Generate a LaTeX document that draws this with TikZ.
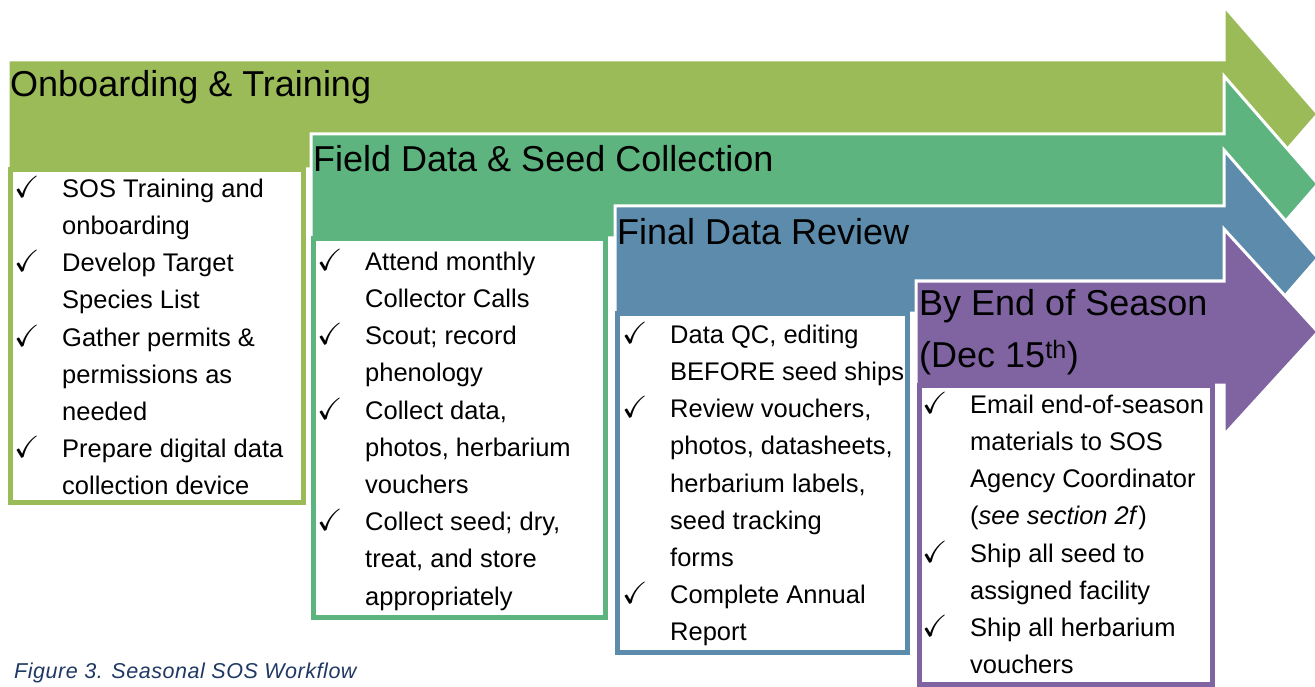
\documentclass[tikz,border=0pt]{standalone}
\usepackage{amssymb}
\usepackage{fontspec}
\setmainfont{Liberation Sans}
\usepackage{tikz}

\definecolor{onboardgreen}{HTML}{9BBB59}
\definecolor{fieldgreen}{HTML}{5DB47E}
\definecolor{reviewblue}{HTML}{5C8BAB}
\definecolor{seasonpurple}{HTML}{8064A2}
\definecolor{captionblue}{HTML}{1F3864}

\newcommand{\tick}{\scalebox{1.2}{$\checkmark$}}

\tikzset{
  phase/.style={anchor=base west, inner sep=0pt, font=\fontsize{36}{51.7}\selectfont},
  tasks/.style={anchor=north west, inner sep=0pt, font=\fontsize{25.5}{37.2}\selectfont},
}

\begin{document}
\begin{tikzpicture}[x=1pt,y=-1pt]
    \useasboundingbox (0,0) rectangle (1315,687);
    % arrows: colour/left end/shaft top/shaft bottom/centre line/half head
    \foreach \Col/\Left/\Top/\Bottom/\Mid/\Head in {onboardgreen/8/60/169/114/108, fieldgreen/311/134/238/184/108,
        reviewblue/615/206/313/258/108, seasonpurple/916/281/385/332/103}
    \filldraw[fill=\Col, draw=white, line width=3pt]
      (\Left,\Top) -- (1224,\Top) -- (1224,\Mid-\Head) -- (1318,\Mid)
      -- (1224,\Mid+\Head) -- (1224,\Bottom) -- (\Left,\Bottom) -- cycle;
    % task boxes under the arrows
    \foreach \Col/\Left/\Top/\Right/\Bottom in {onboardgreen/8/167/306/505, fieldgreen/311/236/608/620,
        reviewblue/615/311/910/655, seasonpurple/917/383/1215/687}
    {
      \fill[\Col] (\Left,\Top) rectangle (\Right,\Bottom);
      \fill[white] (\Left+5,\Top+5) rectangle (\Right-5,\Bottom-5);
    }
    % phase titles
    \node[phase] (onboard) at (10,97) {Onboarding \& Training};
    \node[phase] (field) at (313,172) {Field Data \& Seed Collection};
    \node[phase] (review) at (617,245) {Final Data Review};
    \node[phase, anchor=north west] (season) at (919,279) {\begin{tabular}{@{}l@{}}
        By End of Season\\
        (Dec 15\textsuperscript{th})
      \end{tabular}};
    % task lists
    \node[tasks] (onboardtasks) at (14,171) {\begin{tabular}{@{}p{48pt}@{}l@{}}
        \tick & SOS Training and\\
              & onboarding\\
        \tick & Develop Target\\
              & Species List\\
        \tick & Gather permits \&\\
              & permissions as\\
              & needed\\
        \tick & Prepare digital data\\
              & collection device
      \end{tabular}};
    \node[tasks] (fieldtasks) at (317,244) {\begin{tabular}{@{}p{48pt}@{}l@{}}
        \tick & Attend monthly\\
              & Collector Calls\\
        \tick & Scout; record\\
              & phenology\\
        \tick & Collect data,\\
              & photos, herbarium\\
              & vouchers\\
        \tick & Collect seed; dry,\\
              & treat, and store\\
              & appropriately
      \end{tabular}};
    \node[tasks] (reviewtasks) at (622,317) {\begin{tabular}{@{}p{48pt}@{}l@{}}
        \tick & Data QC, editing\\
              & BEFORE seed ships\\
        \tick & Review vouchers,\\
              & photos, datasheets,\\
              & herbarium labels,\\
              & seed tracking\\
              & forms\\
        \tick & Complete Annual\\
              & Report
      \end{tabular}};
    \node[tasks] (seasontasks) at (922,387) {\begin{tabular}{@{}p{48pt}@{}l@{}}
        \tick & Email end-of-season\\
              & materials to SOS\\
              & Agency Coordinator\\
              & (\textit{see section 2f})\\
        \tick & Ship all seed to\\
              & assigned facility\\
        \tick & Ship all herbarium\\
              & vouchers
      \end{tabular}};
    % caption
    \node[anchor=base west, inner sep=0pt, font=\fontsize{21.5}{25}\selectfont\itshape\addfontfeature{LetterSpace=2.5},
      text=captionblue] (caption) at (14,678) {Figure 3. Seasonal SOS Workflow};
\end{tikzpicture}
\end{document}
